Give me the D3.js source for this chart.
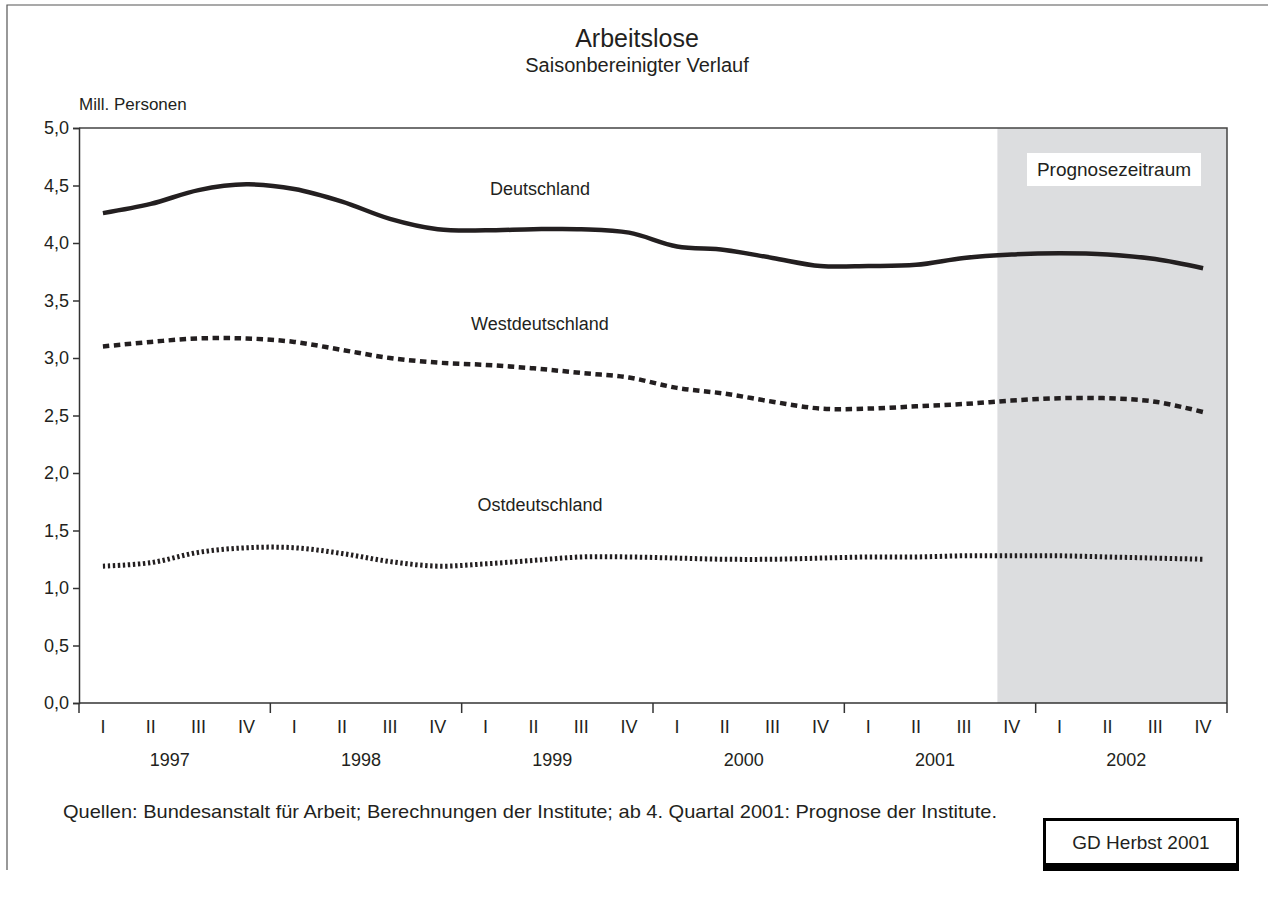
<!DOCTYPE html>
<html>
<head>
<meta charset="utf-8">
<script src="https://cdn.jsdelivr.net/npm/d3@7"></script>
<style>
  body { margin: 0; background: #fff; }
  text { font-family: "Liberation Sans", Arial, sans-serif; fill: #231f20; }
</style>
</head>
<body>
<svg id="chart"></svg>
<script>
// Data (Mill. Personen, saisonbereinigt, quarterly 1997 Q1 - 2002 Q4)
var years = ["1997", "1998", "1999", "2000", "2001", "2002"];
var quarterLabels = ["I", "II", "III", "IV"];
var deutschland = [4.26, 4.34, 4.46, 4.51, 4.47, 4.36, 4.21, 4.12,
                   4.11, 4.12, 4.12, 4.09, 3.97, 3.94, 3.87, 3.80,
                   3.80, 3.81, 3.87, 3.90, 3.91, 3.90, 3.86, 3.78];
var westdeutschland = [3.10, 3.14, 3.17, 3.17, 3.14, 3.07, 3.00, 2.96,
                       2.94, 2.91, 2.87, 2.83, 2.74, 2.69, 2.62, 2.56,
                       2.56, 2.58, 2.60, 2.63, 2.65, 2.65, 2.62, 2.53];
var ostdeutschland = [1.19, 1.22, 1.31, 1.35, 1.35, 1.30, 1.23, 1.19,
                      1.21, 1.24, 1.27, 1.27, 1.26, 1.25, 1.25, 1.26,
                      1.27, 1.27, 1.28, 1.28, 1.28, 1.27, 1.26, 1.25];
var yTicks = [0, 0.5, 1, 1.5, 2, 2.5, 3, 3.5, 4, 4.5, 5];
var forecastStart = 19; // 4. Quartal 2001

var width = 1268, height = 898;
var pLeft = 79, pRight = 1227, pTop = 128, pBottom = 703;
var ink = "#231f20";

var svg = d3.select("#chart")
    .attr("width", width)
    .attr("height", height);

var quarters = d3.range(years.length * 4);

var x = d3.scaleBand()
    .domain(quarters)
    .range([pLeft, pRight]);
var bw = x.bandwidth();

var y = d3.scaleLinear()
    .domain([0, 5])
    .range([pBottom, pTop]);

// outer frame (top and left only)
svg.append("path")
    .attr("d", "M7,870V5H1268")
    .attr("fill", "none")
    .attr("stroke", "#555")
    .attr("stroke-width", 1.2);

// forecast shading
svg.append("rect")
    .attr("x", x(forecastStart) + bw * 0.2)
    .attr("y", pTop)
    .attr("width", pRight - x(forecastStart) - bw * 0.2)
    .attr("height", pBottom - pTop)
    .attr("fill", "#dcdddf");

// plot frame top and right
svg.append("path")
    .attr("d", "M" + pLeft + "," + pTop + "H" + pRight + "V" + pBottom)
    .attr("fill", "none")
    .attr("stroke", "#444")
    .attr("stroke-width", 1.5);

// y axis
var yAxis = svg.append("g")
    .attr("transform", "translate(" + pLeft + ",0)")
    .call(d3.axisLeft(y)
        .tickValues(yTicks)
        .tickSize(6)
        .tickPadding(4)
        .tickFormat(function(d) { return d3.format(".1f")(d).replace(".", ","); }));
yAxis.select(".domain").attr("stroke", "#333").attr("stroke-width", 1.5);
yAxis.selectAll(".tick line").attr("stroke", "#333").attr("stroke-width", 1.5);
yAxis.selectAll("text")
    .style("font-size", "18px")
    .style("font-family", "'Liberation Sans', Arial, sans-serif")
    .attr("fill", ink);

// x axis line and year ticks
svg.append("line")
    .attr("x1", pLeft).attr("x2", pRight)
    .attr("y1", pBottom).attr("y2", pBottom)
    .attr("stroke", "#333").attr("stroke-width", 1.5);

svg.append("g").selectAll("line")
    .data(d3.range(years.length + 1))
    .enter().append("line")
    .attr("x1", function(d) { return d === years.length ? pRight : x(d * 4); })
    .attr("x2", function(d) { return d === years.length ? pRight : x(d * 4); })
    .attr("y1", pBottom)
    .attr("y2", pBottom + 10)
    .attr("stroke", "#333")
    .attr("stroke-width", 1.5);

// quarter labels
svg.append("g").selectAll("text")
    .data(quarters)
    .enter().append("text")
    .attr("x", function(d) { return x(d) + bw / 2; })
    .attr("y", pBottom + 30)
    .attr("text-anchor", "middle")
    .style("font-size", "18px")
    .text(function(d) { return quarterLabels[d % 4]; });

// year labels
svg.append("g").selectAll("text")
    .data(years)
    .enter().append("text")
    .attr("x", function(d, i) { return x(i * 4) + bw * 2 - 5; })
    .attr("y", pBottom + 63)
    .attr("text-anchor", "middle")
    .style("font-size", "18px")
    .text(function(d) { return d; });

// lines
var line = d3.line()
    .x(function(d, i) { return x(i) + bw / 2; })
    .y(function(d) { return y(d); })
    .curve(d3.curveCatmullRom.alpha(0.5));

svg.append("path")
    .datum(deutschland)
    .attr("d", line)
    .attr("fill", "none")
    .attr("stroke", ink)
    .attr("stroke-width", 4.5);

svg.append("path")
    .datum(westdeutschland)
    .attr("d", line)
    .attr("fill", "none")
    .attr("stroke", ink)
    .attr("stroke-width", 4.5)
    .attr("stroke-dasharray", "6.5,4.5");

svg.append("path")
    .datum(ostdeutschland)
    .attr("d", line)
    .attr("fill", "none")
    .attr("stroke", ink)
    .attr("stroke-width", 5)
    .attr("stroke-dasharray", "2.4,2.6");

// series labels
var seriesLabels = [
    { text: "Deutschland", y: 195 },
    { text: "Westdeutschland", y: 330 },
    { text: "Ostdeutschland", y: 511 }
];
svg.append("g").selectAll("text")
    .data(seriesLabels)
    .enter().append("text")
    .attr("x", 540)
    .attr("y", function(d) { return d.y; })
    .attr("text-anchor", "middle")
    .style("font-size", "18px")
    .text(function(d) { return d.text; });

// Prognosezeitraum box
svg.append("rect")
    .attr("x", 1027).attr("y", 153)
    .attr("width", 174).attr("height", 33)
    .attr("fill", "#fff");
svg.append("text")
    .attr("x", 1114).attr("y", 176)
    .attr("text-anchor", "middle")
    .style("font-size", "19px")
    .text("Prognosezeitraum");

// titles
svg.append("text")
    .attr("x", 637).attr("y", 47)
    .attr("text-anchor", "middle")
    .style("font-size", "25px")
    .text("Arbeitslose");
svg.append("text")
    .attr("x", 637).attr("y", 72)
    .attr("text-anchor", "middle")
    .style("font-size", "20px")
    .text("Saisonbereinigter Verlauf");
svg.append("text")
    .attr("x", 79).attr("y", 110)
    .style("font-size", "17px")
    .text("Mill. Personen");

// source note
svg.append("text")
    .attr("x", 63).attr("y", 818)
    .style("font-size", "19px")
    .attr("textLength", 934)
    .attr("lengthAdjust", "spacingAndGlyphs")
    .text("Quellen: Bundesanstalt für Arbeit; Berechnungen der Institute; ab 4. Quartal 2001: Prognose der Institute.");

// GD Herbst 2001 badge
svg.append("rect")
    .attr("x", 1043).attr("y", 818)
    .attr("width", 196).attr("height", 53)
    .attr("fill", "#000");
svg.append("rect")
    .attr("x", 1046).attr("y", 821)
    .attr("width", 190).attr("height", 42)
    .attr("fill", "#fff");
svg.append("text")
    .attr("x", 1141).attr("y", 849)
    .attr("text-anchor", "middle")
    .style("font-size", "19px")
    .text("GD Herbst 2001");
</script>
</body>
</html>
